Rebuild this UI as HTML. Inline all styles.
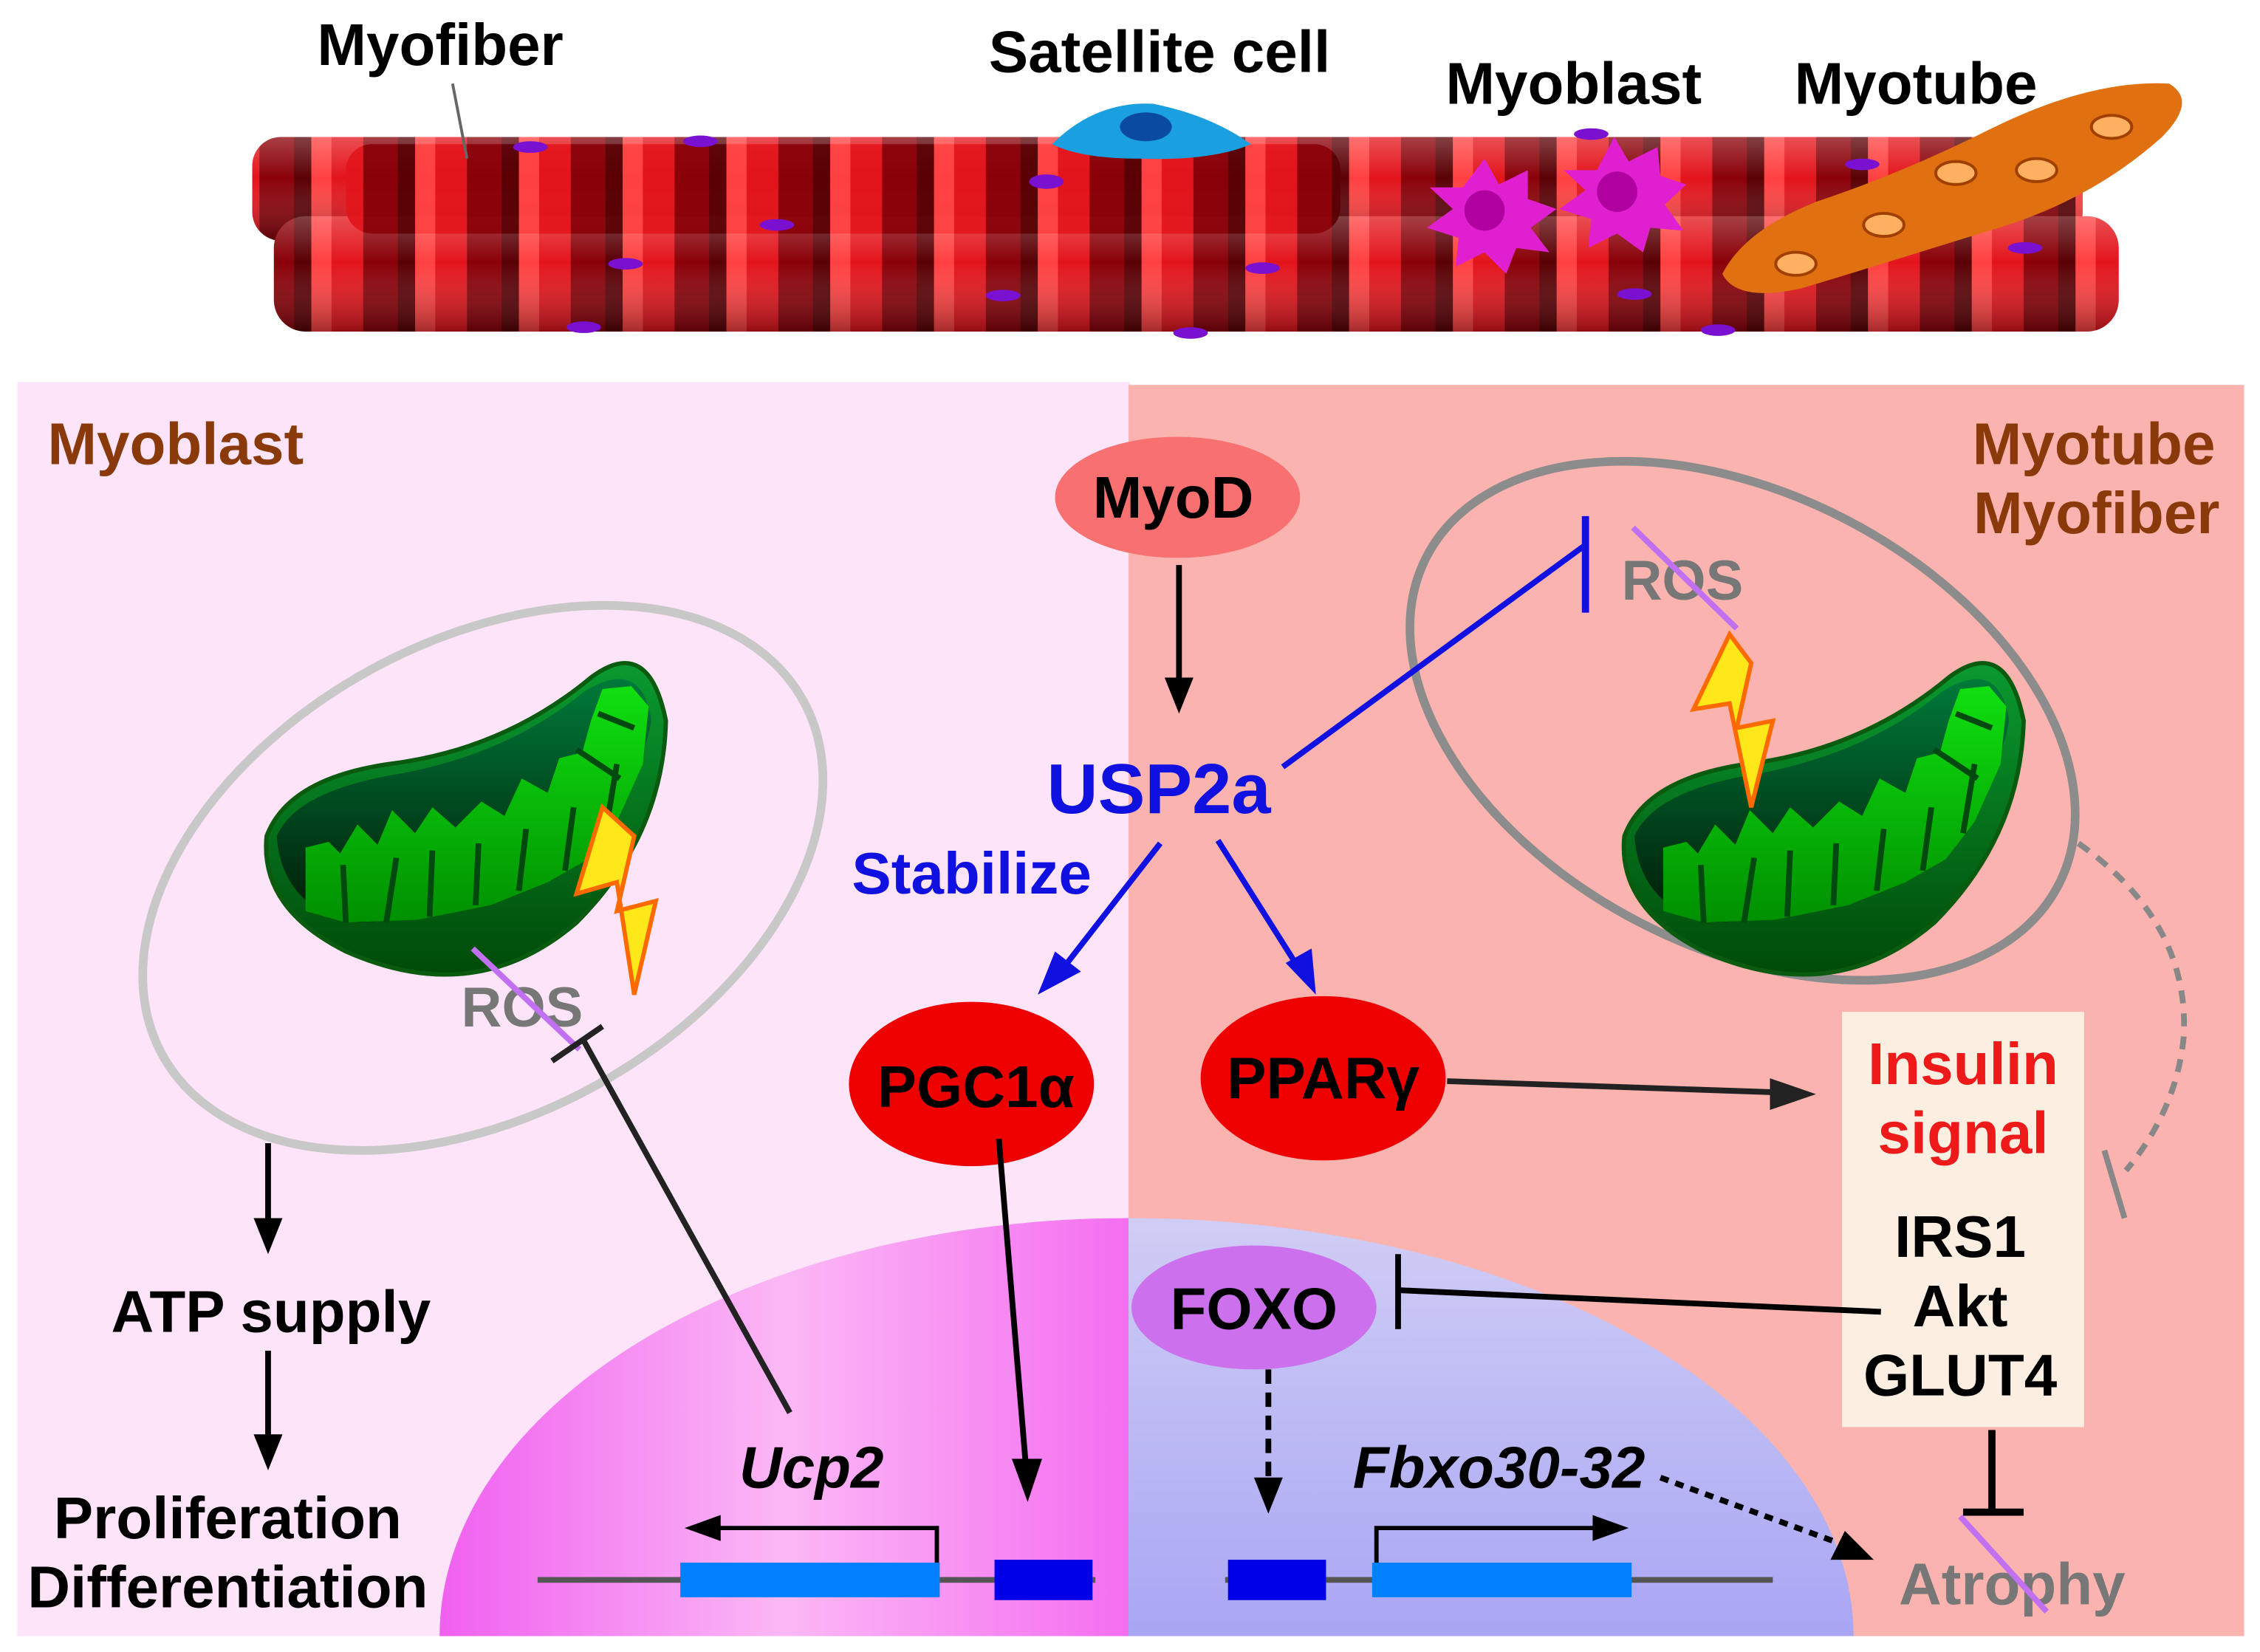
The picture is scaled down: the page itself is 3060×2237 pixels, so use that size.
<!DOCTYPE html>
<html><head><meta charset="utf-8"><style>html,body{margin:0;padding:0;background:#fff}svg{display:block}</style></head>
<body>
<svg width="3060" height="2237" viewBox="0 0 1568 1146" preserveAspectRatio="none" xmlns="http://www.w3.org/2000/svg" font-family="Liberation Sans, sans-serif" font-weight="bold">
<defs>
<pattern id="st" width="72" height="100" patternUnits="userSpaceOnUse">
<rect width="72" height="100" fill="#e3141b"/><rect x="0" width="14" height="100" fill="#ff4040"/><rect x="36" width="30" height="100" fill="#8a0008"/><rect x="60" width="12" height="100" fill="#5a0004"/>
</pattern>
<linearGradient id="fs" x1="0" y1="0" x2="0" y2="1"><stop offset="0" stop-color="#fff" stop-opacity=".25"/><stop offset=".4" stop-color="#fff" stop-opacity="0"/><stop offset="1" stop-color="#000" stop-opacity=".35"/></linearGradient>
<linearGradient id="nl" x1="0" y1="0" x2="1" y2="0"><stop offset="0" stop-color="#f060f0"/><stop offset=".5" stop-color="#fbb8f5"/><stop offset="1" stop-color="#f46ef0"/></linearGradient>
<linearGradient id="nr" x1="0" y1="0" x2="0" y2="1"><stop offset="0" stop-color="#d0cdf5"/><stop offset="1" stop-color="#a8a6f4"/></linearGradient>
<linearGradient id="mo" x1="0" y1="0" x2="0" y2="1"><stop offset="0" stop-color="#0a9a30"/><stop offset="1" stop-color="#004a08"/></linearGradient>
<linearGradient id="mi" x1="0" y1="0" x2="0" y2="1"><stop offset="0" stop-color="#007a3a"/><stop offset="1" stop-color="#001a06"/></linearGradient>
<linearGradient id="cr" x1="0" y1="0" x2="0" y2="1"><stop offset="0" stop-color="#10e010"/><stop offset="1" stop-color="#009000"/></linearGradient>
</defs>
<rect width="1568" height="1146" fill="#fff"/>
<g>
<rect x="175" y="95" width="1270" height="72" rx="20" fill="url(#st)"/>
<rect x="175" y="95" width="1270" height="72" rx="20" fill="url(#fs)"/>
<rect x="190" y="150" width="1280" height="80" rx="22" fill="url(#st)"/>
<rect x="190" y="150" width="1280" height="80" rx="22" fill="url(#fs)"/>
<rect x="240" y="100" width="690" height="62" rx="18" fill="url(#st)" opacity=".9"/>
</g>
<g fill="#7a10d0">
<ellipse cx="368" cy="102" rx="12" ry="4"/><ellipse cx="486" cy="98" rx="12" ry="4"/><ellipse cx="726" cy="126" rx="12" ry="5"/><ellipse cx="539" cy="156" rx="12" ry="4"/><ellipse cx="434" cy="183" rx="12" ry="4"/><ellipse cx="696" cy="205" rx="12" ry="4"/><ellipse cx="876" cy="186" rx="12" ry="4"/><ellipse cx="405" cy="227" rx="12" ry="4"/><ellipse cx="826" cy="231" rx="12" ry="4"/><ellipse cx="1134" cy="204" rx="12" ry="4"/><ellipse cx="1192" cy="229" rx="12" ry="4"/><ellipse cx="1292" cy="114" rx="12" ry="4"/><ellipse cx="1405" cy="172" rx="12" ry="4"/><ellipse cx="1104" cy="93" rx="12" ry="4"/>
</g>
<path d="M730,100 Q760,70 800,72 Q840,80 868,100 Q840,112 790,110 Q750,110 730,100z" fill="#1aa0e0"/>
<ellipse cx="795" cy="88" rx="18" ry="10" fill="#0a4aa0"/>
<g fill="#e020d0"><path d="M1030,110 L1040,128 L1060,118 L1060,138 L1080,145 L1062,158 L1075,175 L1052,172 L1045,190 L1030,175 L1010,185 L1012,165 L990,158 L1008,145 L992,130 L1015,130z"/><path d="M1120,95 L1130,112 L1150,102 L1152,122 L1170,128 L1155,142 L1168,160 L1145,158 L1140,175 L1122,162 L1102,172 L1104,152 L1082,145 L1100,132 L1085,118 L1108,118z"/></g>
<circle cx="1030" cy="146" r="14" fill="#b000a0"/><circle cx="1122" cy="133" r="14" fill="#b000a0"/>
<path d="M1195,190 Q1210,160 1260,140 Q1320,120 1380,90 Q1450,55 1505,58 Q1525,70 1500,95 Q1450,140 1380,160 Q1300,185 1250,200 Q1205,210 1195,190z" fill="#e07010"/>
<g fill="#ffb060" stroke="#a04000" stroke-width="2"><ellipse cx="1465" cy="88" rx="14" ry="8"/><ellipse cx="1413" cy="118" rx="14" ry="8"/><ellipse cx="1357" cy="120" rx="14" ry="8"/><ellipse cx="1307" cy="156" rx="14" ry="8"/><ellipse cx="1246" cy="183" rx="14" ry="8"/></g>
<g font-size="41" fill="#000"><text x="220" y="45">Myofiber</text><text x="686" y="50">Satellite cell</text><text x="1003" y="72">Myoblast</text><text x="1245" y="72">Myotube</text></g>
<line x1="314" y1="58" x2="324" y2="110" stroke="#666" stroke-width="2"/>
<rect x="12" y="265" width="772" height="870" fill="#fde4f8"/>
<rect x="783" y="267" width="774" height="868" fill="#fbb3b0"/>
<path d="M305,1135 A478,290 0 0 1 783,845 L783,1135z" fill="url(#nl)"/>
<path d="M783,845 A503,290 0 0 1 1286,1135 L783,1135z" fill="url(#nr)"/>
<g font-size="41" fill="#8a3a0a"><text x="33" y="322">Myoblast</text><text x="1537" y="322" text-anchor="end">Myotube</text><text x="1540" y="370" text-anchor="end">Myofiber</text></g>
<ellipse cx="335" cy="609" rx="254" ry="164" transform="rotate(-29 335 609)" fill="none" stroke="#c8c8c8" stroke-width="6"/>
<ellipse cx="1209" cy="500" rx="247" ry="157" transform="rotate(27.5 1209 500)" fill="none" stroke="#8c8c8c" stroke-width="6"/>
<g id="mito">
<path d="M185,580 Q200,540 270,530 Q350,520 410,470 Q450,440 462,500 Q460,580 400,640 Q330,700 240,660 Q180,630 185,580z" fill="url(#mo)" stroke="#0a5a10" stroke-width="3"/>
<path d="M192,580 Q205,550 270,538 Q350,525 405,480 Q445,455 452,500 Q440,560 390,600 Q320,640 240,640 Q195,625 192,580z" fill="url(#mi)"/>
<path d="M212,632 L212,588 L228,584 L236,592 L248,572 L262,586 L272,562 L288,578 L300,560 L316,574 L334,556 L350,566 L362,540 L380,550 L388,526 L404,522 L410,500 L418,478 L438,476 L450,490 L446,530 L428,570 L408,596 L380,612 L340,628 L290,638 L240,640z" fill="url(#cr)"/>
<g stroke="#004a10" stroke-width="4" fill="none"><path d="M240,640 L238,600 M268,640 L275,595 M298,636 L300,590 M330,628 L332,585 M360,618 L365,575 M392,604 L398,560 M420,578 L428,530 M400,520 L430,540 M415,495 L440,505"/></g>
</g>
<use href="#mito" transform="translate(942,0)"/>
<path d="M418,560 L400,620 L428,612 L440,690 L455,625 L428,632 L440,580z" fill="#ffe81a" stroke="#ff6a00" stroke-width="3"/>
<path d="M1200,440 L1175,492 L1200,488 L1215,560 L1230,500 L1205,505 L1215,460z" fill="#ffe81a" stroke="#ff6a00" stroke-width="3"/>
<g font-size="39" fill="#777"><text x="320" y="712">ROS</text><text x="1125" y="416">ROS</text></g>
<line x1="328" y1="658" x2="402" y2="728" stroke="#c070f0" stroke-width="4"/>
<line x1="1133" y1="366" x2="1205" y2="436" stroke="#c070f0" stroke-width="4"/>
<ellipse cx="817" cy="345" rx="85" ry="42" fill="#f87070"/>
<text x="814" y="359" font-size="41" text-anchor="middle">MyoD</text>
<line x1="818" y1="392" x2="818" y2="480" stroke="#000" stroke-width="4"/><path d="M808,470 L818,495 L828,470z" fill="#000"/>
<text x="804" y="564" font-size="49" fill="#1010e0" text-anchor="middle">USP2a</text>
<text x="591" y="620" font-size="41" fill="#1010e0">Stabilize</text>
<line x1="890" y1="532" x2="1100" y2="378" stroke="#1010e0" stroke-width="4"/><line x1="1100" y1="358" x2="1100" y2="425" stroke="#1010e0" stroke-width="5"/>
<line x1="805" y1="585" x2="735" y2="675" stroke="#1010e0" stroke-width="4"/><path d="M720,690 L732,660 L750,674z" fill="#1010e0"/>
<line x1="845" y1="583" x2="900" y2="670" stroke="#1010e0" stroke-width="4"/><path d="M913,690 L892,668 L910,658z" fill="#1010e0"/>
<ellipse cx="674" cy="752" rx="85" ry="57" fill="#ee0000"/><text x="677" y="768" font-size="41" text-anchor="middle">PGC1α</text>
<ellipse cx="918" cy="748" rx="85" ry="57" fill="#ee0000"/><text x="918" y="762" font-size="41" text-anchor="middle">PPARγ</text>
<line x1="1004" y1="750" x2="1240" y2="758" stroke="#222" stroke-width="4"/><path d="M1260,759 L1228,748 L1228,770z" fill="#222"/>
<rect x="1278" y="702" width="168" height="288" fill="#fdeee2"/>
<g font-size="41" text-anchor="middle"><text x="1362" y="752" fill="#ee1a1a">Insulin</text><text x="1362" y="800" fill="#ee1a1a">signal</text><text x="1360" y="872">IRS1</text><text x="1360" y="920">Akt</text><text x="1360" y="968">GLUT4</text></g>
<path d="M1442,585 Q1520,640 1515,720 Q1510,770 1475,812" fill="none" stroke="#888" stroke-width="4" stroke-dasharray="9,7"/>
<line x1="1460" y1="798" x2="1474" y2="845" stroke="#888" stroke-width="4"/>
<line x1="186" y1="793" x2="186" y2="850" stroke="#000" stroke-width="4"/><path d="M176,845 L186,870 L196,845z" fill="#000"/>
<text x="188" y="924" font-size="41" text-anchor="middle">ATP supply</text>
<line x1="186" y1="937" x2="186" y2="1000" stroke="#000" stroke-width="4"/><path d="M176,995 L186,1020 L196,995z" fill="#000"/>
<text x="158" y="1067" font-size="41" text-anchor="middle">Proliferation</text><text x="158" y="1115" font-size="41" text-anchor="middle">Differentiation</text>
<line x1="548" y1="980" x2="405" y2="722" stroke="#222" stroke-width="4"/><line x1="383" y1="736" x2="418" y2="712" stroke="#222" stroke-width="4"/>
<line x1="693" y1="790" x2="712" y2="1020" stroke="#000" stroke-width="4"/><path d="M702,1012 L713,1042 L723,1012z" fill="#000"/>
<ellipse cx="870" cy="907" rx="85" ry="43" fill="#cc70ee"/><text x="870" y="922" font-size="41" text-anchor="middle">FOXO</text>
<line x1="970" y1="895" x2="1305" y2="910" stroke="#000" stroke-width="4"/><line x1="970" y1="870" x2="970" y2="922" stroke="#000" stroke-width="4"/>
<line x1="880" y1="950" x2="880" y2="1030" stroke="#000" stroke-width="4" stroke-dasharray="10,6"/><path d="M870,1025 L880,1050 L890,1025z" fill="#000"/>
<line x1="1382" y1="992" x2="1382" y2="1048" stroke="#000" stroke-width="5"/><line x1="1362" y1="1049" x2="1404" y2="1049" stroke="#000" stroke-width="5"/>
<text x="1396" y="1113" font-size="41" fill="#777" text-anchor="middle">Atrophy</text>
<line x1="1360" y1="1052" x2="1420" y2="1118" stroke="#c070f0" stroke-width="4"/>
<text x="563" y="1032" font-size="41" font-style="italic" text-anchor="middle">Ucp2</text>
<text x="1040" y="1032" font-size="41" font-style="italic" text-anchor="middle">Fbxo30-32</text>
<line x1="1152" y1="1025" x2="1280" y2="1072" stroke="#000" stroke-width="4" stroke-dasharray="6,5"/><path d="M1300,1082 L1270,1082 L1280,1062z" fill="#000"/>
<line x1="373" y1="1096" x2="760" y2="1096" stroke="#555" stroke-width="4"/>
<rect x="472" y="1084" width="180" height="24" fill="#0080ff"/><rect x="690" y="1082" width="68" height="28" fill="#0000e8"/>
<polyline points="650,1084 650,1060 490,1060" fill="none" stroke="#000" stroke-width="3"/><path d="M475,1060 L500,1051 L500,1069z" fill="#000"/>
<line x1="850" y1="1096" x2="1230" y2="1096" stroke="#555" stroke-width="4"/>
<rect x="852" y="1082" width="68" height="28" fill="#0000e8"/><rect x="952" y="1084" width="180" height="24" fill="#0080ff"/>
<polyline points="955,1084 955,1060 1115,1060" fill="none" stroke="#000" stroke-width="3"/><path d="M1130,1060 L1105,1051 L1105,1069z" fill="#000"/>
</svg>
</body></html>
